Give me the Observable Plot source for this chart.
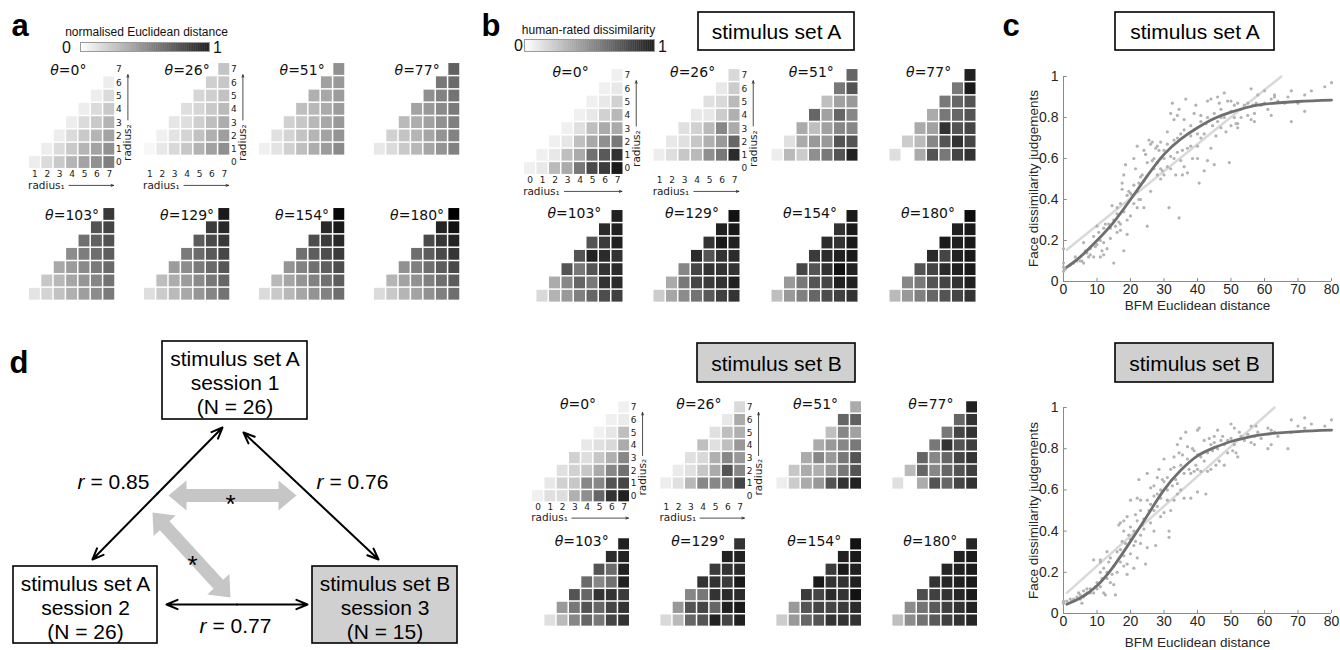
<!DOCTYPE html>
<html><head><meta charset="utf-8">
<script src="https://cdn.jsdelivr.net/npm/d3@7"></script>
<script src="https://cdn.jsdelivr.net/npm/@observablehq/plot@0.6"></script>
<style>
body{margin:0;background:#fff;}
#root{position:relative;width:1340px;height:650px;overflow:hidden;background:#fff;}
#root svg{position:absolute;overflow:visible;background:none;max-width:none;}
</style></head><body><div id="root"></div>
<script>
// ---------------- DATA ----------------
const thetaLabels = ["θ=0°","θ=26°","θ=51°","θ=77°","θ=103°","θ=129°","θ=154°","θ=180°"];
// grid rows listed bottom (lowest radius2) to top; each row ends at radius1 = 7
// panel a: normalised Euclidean distance
const a_t0 = [[.07,.14,.21,.29,.36,.43,.50],[.07,.14,.21,.29,.36,.43],[.07,.14,.21,.29,.36],[.07,.14,.21,.29],[.07,.14,.21],[.07,.14],[.07]];
const a_t26 = [[.03,.09,.15,.22,.30,.37,.44],[.06,.11,.17,.24,.31,.38],[.10,.13,.19,.25,.32],[.13,.16,.21,.27],[.16,.19,.24],[.19,.22],[.23]];
const a_t51 = [[.06,.11,.18,.25,.32,.39,.46],[.12,.17,.23,.29,.36,.42],[.18,.22,.28,.34,.40],[.25,.28,.33,.39],[.31,.34,.39],[.37,.40],[.43]];
const a_t77 = [[.09,.14,.21,.28,.35,.42,.49],[.18,.23,.29,.35,.42,.49],[.27,.32,.37,.43,.50],[.36,.40,.46,.52],[.44,.49,.55],[.53,.58],[.62]];
const a_t103 = [[.11,.17,.24,.31,.38,.45,.52],[.22,.28,.35,.41,.48,.55],[.34,.39,.46,.52,.59],[.45,.51,.57,.63],[.56,.62,.68],[.67,.73],[.78]];
const a_t129 = [[.13,.20,.27,.34,.41,.48,.55],[.26,.32,.39,.46,.53,.60],[.39,.45,.52,.59,.66],[.52,.58,.65,.72],[.64,.71,.78],[.77,.84],[.90]];
const a_t154 = [[.14,.21,.28,.35,.42,.49,.57],[.28,.35,.42,.49,.56,.63],[.42,.49,.56,.63,.70],[.56,.63,.70,.77],[.70,.77,.84],[.84,.90],[.97]];
const a_t180 = [[.14,.21,.29,.36,.43,.50,.57],[.29,.36,.43,.50,.57,.64],[.43,.50,.57,.64,.71],[.57,.64,.71,.79],[.71,.79,.86],[.86,.93],[1.0]];
// panel b, stimulus set A: human-rated dissimilarity
const bA_t0 = [[.06,.09,.27,.33,.53,.71,.77,.90],[.06,.09,.25,.33,.56,.65,.80],[.06,.10,.25,.34,.44,.53],[.06,.12,.25,.33,.33],[.06,.09,.18,.28],[.06,.09,.18],[.06,.09],[.06]];
const bA_t26 = [[.07,.13,.22,.27,.44,.53,.83],[.09,.12,.22,.31,.40,.60],[.12,.18,.27,.47,.33],[.09,.09,.20,.31],[.12,.15,.27],[.09,.20],[.15]];
const bA_t51 = [[.07,.27,.20,.44,.53,.67,.87],[.12,.33,.40,.40,.67,.67],[.33,.25,.37,.47,.47],[.60,.37,.60,.47],[.25,.37,.40],[.53,.67],[.60]];
const bA_t77 = [[.13,0,.33,.67,.53,.73,.80],[.20,.27,.47,.67,.80,.73],[.33,.37,.80,.67,.73],[.33,.53,.60,.67],[.53,.60,.67],[.53,.90],[.87]];
const bA_t103 = [[.15,.30,.40,.50,.60,.70,.75],[.33,.47,.60,.53,.80,.83],[.67,.53,.67,.80,.83],[.67,.87,.83,.80],[.67,.77,.87],[.83,.87],[.87]];
const bA_t129 = [[.20,.35,.45,.55,.65,.75,.80],[.33,.53,.73,.77,.80,.87],[.47,.73,.80,.80,.80],[.83,.67,.80,.83],[.80,.90,.87],[.87,.90],[.93]];
const bA_t154 = [[.25,.40,.50,.60,.70,.75,.80],[.40,.53,.67,.73,.87,.87],[.73,.67,.80,.93,.87],[.77,.83,.87,.90],[.83,.80,.90],[.80,.90],[.90]];
const bA_t180 = [[.27,.40,.50,.60,.67,.73,.80],[.47,.53,.67,.73,.80,.87],[.67,.73,.83,.87,.90],[.83,.73,.87,.90],[.90,.87,.90],[.87,.90],[.95]];
// panel b, stimulus set B
const bB_t0 = [[.06,.12,.13,.31,.44,.60,.80,.87],[.09,.18,.22,.47,.47,.67,.73],[.12,.18,.22,.33,.47,.56],[.18,.13,.22,.31,.47],[.09,.12,.15,.33],[.06,.10,.25],[.06,.08],[.06]];
const bB_t26 = [[.07,.12,.28,.47,.47,.53,.73],[.08,.12,.22,.33,.67,.47],[.12,.15,.31,.47,.40],[.25,.12,.25,.40],[.12,.25,.31],[.09,.33],[.15]];
const bB_t51 = [[.07,.20,.33,.40,.67,.80,.87],[.22,.33,.31,.40,.53,.67],[.33,.47,.40,.53,.67],[.33,.40,.47,.53],[.25,.47,.37],[.60,.62],[.33]];
const bB_t77 = [[.12,0,.33,.67,.60,.73,.80],[.27,.60,.47,.60,.67,.75],[.60,.47,.60,.73,.80],[.53,.80,.67,.75],[.53,.73,.80],[.60,.80],[.87]];
const bB_t103 = [[.12,.27,.47,.60,.53,.73,.80],[.40,.53,.67,.60,.73,.80],[.67,.60,.80,.80,.77],[.58,.47,.56,.87],[.67,.58,.87],[.83,.87],[.87]];
const bB_t129 = [[.15,.27,.60,.67,.87,.73,.87],[.40,.67,.73,.60,.87,.90],[.47,.53,.80,.83,.83],[.80,.80,.77,.90],[.77,.80,.83],[.87,.87],[.80]];
const bB_t154 = [[.20,.40,.60,.67,.80,.80,.80],[.40,.67,.73,.73,.77,.83],[.77,.73,.83,.80,.93],[.90,.80,.80,.87],[.77,.90,.87],[.87,.90],[.93]];
const bB_t180 = [[.25,.45,.55,.65,.75,.80,.85],[.45,.55,.65,.75,.80,.87],[.70,.75,.80,.85,.90],[.80,.85,.87,.90],[.85,.87,.90],[.87,.90],[.85]];

// panel c: BFM Euclidean distance vs face dissimilarity judgement
const scatterA = [[0,.16],[0,.05],[0,.07],[0,.09],[.5,.06],[2,.08],[3,.09],[4,.1],[5,.1],[5.5,.1],[6,.19],[6,.09],[7,.14],[7.5,.12],[8,.13],[8,.16],
[9,.12],[9,.22],[10,.27],[10,.18],[10.5,.24],[11,.12],[11,.2],[11.5,.15],[12,.26],[12,.13],[12.5,.28],
[13,.16],[13.5,.28],[14,.26],[14.5,.37],[15,.09],[15,.3],[15.5,.27],[16,.24],[16,.33],[16.5,.29],[17,.38],[17,.25],[17,.28],[17.5,.45],[17.5,.48],[18,.15],[18,.34],[18,.52],[18.5,.57],[19,.23],[19,.42],
[19.5,.44],[20,.43],[20,.32],[20.5,.42],[21,.6],[21,.38],[21.5,.55],[22,.66],[22,.44],[22,.36],[22.5,.4],[22.5,.48],[23,.51],[23,.47],[23,.4],[23.5,.52],[24,.64],[24,.36],[24.5,.62],[25,.27],[25,.58],
[25.5,.69],[26,.67],[26,.44],[26.5,.68],[27,.6],[27,.55],[27.5,.65],[28,.66],[28,.52],[28,.58],[28.5,.64],[29,.5],[29,.6],[29,.55],[29.5,.54],[30,.6],[30,.52],[30,.64],
[31,.73],[31,.56],[31.5,.36],[32,.82],[32,.55],[32,.61],[32.5,.87],[33,.79],[33,.69],[33,.6],[33.5,.52],[34,.81],[34,.7],[34.5,.84],[34.5,.31],[35,.72],[35,.59],[35.5,.64],[35.5,.52],[36,.56],[36,.74],
[36.5,.89],[37,.65],[37,.53],[38,.76],[38,.71],[38.5,.6],[39,.74],[39,.82],[39.5,.86],[40,.72],[40,.6],[40,.66],[40.5,.48],[41,.81],[41,.78],[42,.54],[42,.72],[42.5,.77],[43,.88],[43,.59],
[44,.65],[44,.89],[44.5,.76],[45,.82],[45,.57],[45.5,.71],[46,.9],[46,.78],[46.5,.87],[47,.84],[47,.75],[48,.92],[48,.8],[48.5,.73],[49,.88],[49.5,.58],[50,.88],[50,.83],
[51,.86],[51,.8],[51.5,.77],[52,.87],[52,.75],[52,.77],[53,.8],[54,.86],[55,.87],[56,.94],[56,.79],[56.5,.86],[57,.82],[57,.78],[57.5,.87],[58,.91],
[60,.93],[60,.87],[61,.84],[62,.81],[62,.89],[63,.91],[63,.9],[67,.9],[68,.93],[68,.78],[70,.87],[72,.83],[72,.91],[74,.93],[78,.95],[80,.97],
[3.5,.12],[6.5,.15],[9.5,.17],[12,.19],[14,.21],[16,.36],[19,.3],[21,.47],[24,.49],[26.5,.59],[29,.68],[31,.67],[34,.63],[36,.79],[38,.66],[41,.7],[43,.8],[47,.8],[50,.76],[53,.84],[55,.81],[59,.86],[64,.88],[66,.87]];
const scatterB = [[0,.05],[0,.06],[1,.06],[2,.07],[3,.07],[4,.08],[5,.09],[5,.07],[5.5,.05],[6,.11],[6,.08],[7,.1],[7,.12],[8,.12],[8,.1],[9,.26],[9,.1],
[10,.12],[10,.15],[11,.25],[11,.2],[11,.26],[11.5,.17],[12,.1],[12,.22],[12.5,.09],[13,.3],[13,.2],[13.5,.25],[14,.27],[14,.15],[15,.14],[15,.23],[15.5,.09],[16,.2],[16,.3],
[16.5,.43],[17,.44],[17,.25],[17.5,.35],[18,.45],[18,.28],[18,.23],[18.5,.34],[19,.47],[19,.24],[19,.19],[19.5,.38],[20,.55],[20,.42],[20,.29],[21,.4],[21,.33],[21,.22],[21.5,.35],[22,.45],[22,.56],[22,.27],
[22.5,.65],[23,.55],[23,.5],[23,.38],[23,.34],[24,.46],[24,.41],[24.5,.24],[25,.68],[25,.55],[25,.32],[26,.53],[26,.61],[26,.44],[27,.62],[27,.5],[27,.4],[27.5,.33],[28,.58],[28,.66],[28,.52],
[28.5,.7],[29,.6],[29,.56],[29,.47],[30,.64],[30,.75],[30,.49],[31,.6],[31,.55],[31.5,.4],[31.5,.37],[32,.7],[32,.5],[32.5,.62],[33,.71],[33,.55],[33.5,.65],[34,.82],[34,.63],[34,.58],
[34.5,.78],[35,.85],[35,.72],[35,.6],[36,.56],[36,.68],[36.5,.88],[37,.81],[37,.75],[38,.56],[38,.68],[38.5,.8],[39,.79],[39,.69],[39.5,.72],[40,.89],[40,.7],[40,.59],[40.5,.9],
[41,.76],[41,.69],[42,.84],[42,.74],[42.5,.58],[43,.78],[43,.69],[44,.82],[44,.7],[44.5,.79],[45,.86],[45,.83],[45.5,.72],[46,.89],[46,.8],[46.5,.74],[47,.84],[48,.82],[48,.72],
[49,.84],[49,.78],[50,.92],[50,.85],[50.5,.79],[51,.9],[51,.82],[51.5,.78],[52,.76],[53,.86],[54,.84],[55,.87],[56,.91],[56,.83],[57,.86],[57,.82],[57.5,.91],[58,.88],
[61,.9],[61,.8],[62,.82],[62,.89],[63,.88],[64,.86],[67,.8],[68,.88],[68,.94],[70,.91],[72,.95],[72,.9],[74,.92],[78,.91],[80,.94],
[2.5,.06],[4.5,.1],[6.5,.09],[9.5,.13],[11,.13],[13,.17],[14.5,.19],[17,.31],[18,.4],[20,.36],[21.5,.48],[23.5,.43],[25.5,.5],[27,.57],[29.5,.65],[31,.66],[33,.76],[35.5,.77],[37.5,.7],[40,.77],[43.5,.85],[47.5,.86],[52.5,.88],[59,.85]];
const sigmoidA = [[1,.07],[5,.12],[10,.2],[15,.29],[20,.4],[25,.515],[30,.62],[35,.695],[40,.75],[45,.795],[50,.826],[55,.85],[60,.865],[70,.878],[80,.885]];
const sigmoidB = [[1,.045],[5,.075],[10,.135],[15,.23],[20,.35],[25,.475],[30,.6],[35,.695],[40,.765],[45,.805],[50,.835],[55,.855],[60,.87],[70,.883],[80,.89]];
const linearA = [[1,.155],[65,1.0]];
const linearB = [[1,.10],[63,1.0]];
const xTicksC = [0,10,20,30,40,50,60,70,80];
const yTicksC = [0,0.2,0.4,0.6,0.8,1];

// panel d
const dBoxText = ["stimulus set A\nsession 1\n(N = 26)","stimulus set A\nsession 2\n(N = 26)","stimulus set B\nsession 3\n(N = 15)"];
const dCorr = [0.85, 0.76, 0.77];
const dStars = ["*","*"];

// ---------------- LAYOUT ----------------
const root = document.getElementById("root");
function place(svg, left, top) { svg.style.left = left + "px"; svg.style.top = top + "px"; italicize(svg); root.appendChild(svg); }
function italicize(svg) {
  const NS = "http://www.w3.org/2000/svg";
  svg.querySelectorAll("text").forEach(t => {
    if (t.children.length) return;
    const s = t.textContent;
    let head = null;
    if (s.startsWith("θ")) head = "θ"; else if (s.startsWith("r = ")) head = "r";
    if (!head) return;
    t.textContent = "";
    const a = document.createElementNS(NS, "tspan"); a.setAttribute("font-style", "italic"); a.textContent = head;
    const b = document.createElementNS(NS, "tspan"); b.textContent = s.slice(head.length);
    t.appendChild(a); t.appendChild(b);
  });
}
const greyScale = {type: "linear", domain: [0, 1], range: ["#ffffff", "#000000"], clamp: true};
const pageScales = {x: {domain: [0, 1340], range: [0, 1340], axis: null}, y: {domain: [0, 650], range: [0, 650], axis: null}};

// overlay layout
const letterPos = [{t: "a", x: 11, y: 35}, {t: "b", x: 481, y: 35}, {t: "c", x: 1002, y: 35}, {t: "d", x: 9, y: 372}];
const titleBoxes = [
  {t: "stimulus set A", x1: 698, x2: 854, y1: 12, y2: 50, fill: "white"},
  {t: "stimulus set B", x1: 697, x2: 855, y1: 343, y2: 382, fill: "#d0d0d0"},
  {t: "stimulus set A", x1: 1115, x2: 1274, y1: 12, y2: 50, fill: "white"},
  {t: "stimulus set B", x1: 1115, x2: 1273, y1: 343, y2: 382, fill: "#d0d0d0"}
];
const dBoxLayout = [{x1: 162, x2: 307, y1: 341, y2: 419, fill: "white"}, {x1: 13, x2: 157, y1: 566, y2: 643, fill: "white"}, {x1: 312, x2: 457, y1: 566, y2: 643, fill: "#d0d0d0"}];
const dCorrLayout = [{x: 113, y: 482}, {x: 352, y: 482}, {x: 235, y: 626}];
const dLinkLayout = [{xa: 222, ya: 427, xb: 92, yb: 559}, {xa: 243, ya: 432, xb: 378, yb: 559}, {xa: 166, ya: 604, xb: 307, yb: 604}];
const dGreyLayout = [{xa: 168, ya: 495, xb: 296, yb: 495, sx: 230, sy: 497}, {xa: 152, ya: 512, xb: 230, yb: 597, sx: 192, sy: 558}];

function blockArrow(L, sh, hh, hl) {
  const dx = L.xb - L.xa, dy = L.yb - L.ya, len = Math.hypot(dx, dy);
  const ux = dx / len, uy = dy / len, nx = -uy, ny = ux;
  const P = (x, y) => ({x, y});
  const A = [L.xa, L.ya], B = [L.xb, L.yb];
  return [
    P(A[0], A[1]),
    P(A[0] + ux*hl + nx*hh, A[1] + uy*hl + ny*hh),
    P(A[0] + ux*hl + nx*sh, A[1] + uy*hl + ny*sh),
    P(B[0] - ux*hl + nx*sh, B[1] - uy*hl + ny*sh),
    P(B[0] - ux*hl + nx*hh, B[1] - uy*hl + ny*hh),
    P(B[0], B[1]),
    P(B[0] - ux*hl - nx*hh, B[1] - uy*hl - ny*hh),
    P(B[0] - ux*hl - nx*sh, B[1] - uy*hl - ny*sh),
    P(A[0] + ux*hl - nx*sh, A[1] + uy*hl - ny*sh),
    P(A[0] + ux*hl - nx*hh, A[1] + uy*hl - ny*hh),
    P(A[0], A[1])
  ];
}
const linkSegs = dLinkLayout.flatMap(L => {
  const mx = (L.xa + L.xb) / 2, my = (L.ya + L.yb) / 2;
  return [{x1: mx, y1: my, x2: L.xa, y2: L.ya}, {x1: mx, y1: my, x2: L.xb, y2: L.yb}];
});

const overlay = Plot.plot({
  width: 1340, height: 650, margin: 0, ...pageScales,
  style: {fontFamily: "Liberation Sans, Arial, sans-serif", background: "none", overflow: "visible"},
  marks: [
    Plot.text(letterPos, {x: "x", y: "y", text: "t", fontSize: 31, fontWeight: "bold", textAnchor: "start", lineAnchor: "bottom", fill: "black"}),
    Plot.rect(titleBoxes, {x1: "x1", x2: "x2", y1: "y1", y2: "y2", fill: "fill", stroke: "black", strokeWidth: 1.6}),
    Plot.text(titleBoxes, {x: d => (d.x1 + d.x2) / 2, y: d => (d.y1 + d.y2) / 2 + 1, text: "t", fontSize: 21, fill: "black"}),
    // colorbar titles
    Plot.text(["normalised Euclidean distance", "human-rated dissimilarity"], {x: (d, i) => [146, 588][i], y: (d, i) => [32, 30][i], text: d => d, fontSize: 12, fill: "#111"}),
    Plot.text(["0", "1", "0", "1"], {x: (d, i) => [66, 217, 518, 662][i], y: (d, i) => [47, 47, 45, 46][i], text: d => d, fontSize: 16, fill: "#111"}),
    // panel c axis titles
    Plot.text(["Face dissimilarity judgements", "Face dissimilarity judgements"], {x: 1033, y: (d, i) => [178, 510][i], text: d => d, rotate: -90, fontSize: 13.5, fill: "#262626"}),
    Plot.text(["BFM Euclidean distance", "BFM Euclidean distance"], {x: 1197, y: (d, i) => [305, 642][i], text: d => d, fontSize: 13.5, fill: "#262626"}),
    // panel d
    ...dGreyLayout.map(L => Plot.line(blockArrow(L, 6.5, 15, 18), {x: "x", y: "y", fill: "#c6c6c6", stroke: "none"})),
    Plot.text(dStars, {x: (d, i) => dGreyLayout[i].sx, y: (d, i) => dGreyLayout[i].sy + 7, text: d => d, fontSize: 26, fill: "black"}),
    Plot.rect(dBoxLayout, {x1: "x1", x2: "x2", y1: "y1", y2: "y2", fill: "fill", stroke: "black", strokeWidth: 1.6}),
    Plot.text(dBoxText, {x: (d, i) => (dBoxLayout[i].x1 + dBoxLayout[i].x2) / 2, y: (d, i) => (dBoxLayout[i].y1 + dBoxLayout[i].y2) / 2 + 2, text: d => d, fontSize: 21, lineHeight: 1.14, fill: "black"}),
    Plot.arrow(linkSegs, {x1: "x1", y1: "y1", x2: "x2", y2: "y2", stroke: "black", strokeWidth: 2, headLength: 9, headAngle: 45}),
    Plot.text(dCorr, {x: (d, i) => dCorrLayout[i].x, y: (d, i) => dCorrLayout[i].y, text: d => "r = " + d.toFixed(2), fontSize: 21, fill: "black"})
  ]
});
place(overlay, 0, 0);

// colorbars
const ramp = d3.range(0, 1, 0.005);
function colorbar(left, top, w, h) {
  const svg = Plot.plot({width: w, height: h, margin: 0, x: {domain: [0, 1], axis: null}, y: {domain: [0, 1], axis: null}, color: greyScale,
    style: {background: "none"},
    marks: [Plot.rect(ramp, {x1: d => d, x2: d => d + 0.006, y1: 0, y2: 1, fill: d => d}), Plot.frame({stroke: "#9a9a9a"})]});
  place(svg, left, top);
}
colorbar(80, 42, 129, 9);
colorbar(524, 39, 130, 12);

// heat grids
const gridLayouts = {
  a: {px: 12.4, py: 13.3, cols: [109, 224, 339, 454], rowsY: [162, 307], lx: [3.7, 4, 4, 4, 4, 4, 4, 4], ly: 6.95},
  bA: {px: 12.5, py: 13.3, cols: [617, 734, 852, 970], rowsY: [168, 308.6], lx: [3.25, 3.65, 3.7, 3.65, 3.55, 3.6, 3.6, 3.6], ly: 7.2},
  bB: {px: 12.3, py: 12.7, cols: [624, 740, 856, 972], rowsY: [496, 632.4], lx: [3.25, 3.65, 3.7, 3.65, 3.55, 3.6, 3.6, 3.6], ly: 7.25}
};
const one7 = [1, 2, 3, 4, 5, 6, 7], zero7 = [0, 1, 2, 3, 4, 5, 6, 7];
const gridSets = [
  {L: gridLayouts.a, grids: [a_t0, a_t26, a_t51, a_t77, a_t103, a_t129, a_t154, a_t180], axes: [{x: one7, y: zero7}, {x: one7, y: zero7}]},
  {L: gridLayouts.bA, grids: [bA_t0, bA_t26, bA_t51, bA_t77, bA_t103, bA_t129, bA_t154, bA_t180], axes: [{x: zero7, y: zero7}, {x: one7, y: zero7}]},
  {L: gridLayouts.bB, grids: [bB_t0, bB_t26, bB_t51, bB_t77, bB_t103, bB_t129, bB_t154, bB_t180], axes: [{x: zero7, y: zero7}, {x: one7, y: zero7}]}
];
function drawGrid(values, r2min, label, L, k, axes) {
  const cells = [];
  values.forEach((row, j) => row.forEach((v, i) => cells.push({r1: 8 - row.length + i, r2: r2min + j, v})));
  const X0 = -5, X1 = 10, Y0 = -3, Y1 = 8.8;
  const marks = [
    Plot.rect(cells, {x1: d => d.r1 - 0.5, x2: d => d.r1 + 0.5, y1: d => d.r2 - 0.5, y2: d => d.r2 + 0.5, fill: "v", inset: 0.75}),
    Plot.text([label], {x: L.lx[k], y: L.ly, text: d => d, fontSize: 14, fill: "#111"})
  ];
  if (axes) {
    const xt = axes.x, yt = axes.y;
    marks.push(
      Plot.text(xt, {x: d => d, y: -0.85, text: d => String(d), fontSize: 9, fill: "#222"}),
      Plot.text(yt, {x: 7.78, y: d => d, text: d => String(d), fontSize: 9, fill: "#222"}),
      Plot.text(["radius₁"], {x: xt[0] - 0.55, y: -1.72, text: d => d, textAnchor: "start", fontSize: 10.5, fill: "#222"}),
      Plot.arrow([0], {x1: xt[0] + 2.75, x2: 7.35, y1: -1.72, y2: -1.72, stroke: "#222", strokeWidth: 0.8, headLength: 5, headAngle: 40}),
      Plot.text(["radius₂"], {x: 8.5, y: 1.5, text: d => d, rotate: -90, fontSize: 10.5, fill: "#222"}),
      Plot.arrow([0], {x1: 8.5, x2: 8.5, y1: 3.2, y2: 6.6, stroke: "#222", strokeWidth: 0.8, headLength: 5, headAngle: 40})
    );
  }
  const svg = Plot.plot({
    width: (X1 - X0) * L.px, height: (Y1 - Y0) * L.py, margin: 0,
    x: {domain: [X0, X1], axis: null}, y: {domain: [Y0, Y1], axis: null}, color: greyScale,
    style: {fontFamily: "DejaVu Sans", background: "none", overflow: "visible"}, marks
  });
  place(svg, L.cols[k % 4] - (7 - X0) * L.px, L.rowsY[Math.floor(k / 4)] - Y1 * L.py);
}
gridSets.forEach(S => S.grids.forEach((g, k) => drawGrid(g, g.length === 7 && k > 0 ? 1 : 0, thetaLabels[k], S.L, k, S.axes[k])));

// scatter plots
function scatter(pts, lin, sig, left, top, innerH) {
  const toXY = a => a.map(([x, y]) => ({x, y}));
  const svg = Plot.plot({
    width: 350, height: 16 + innerH + 35, marginLeft: 73, marginRight: 9, marginTop: 16, marginBottom: 35,
    x: {domain: [0, 80]}, y: {domain: [0, 1]},
    style: {fontFamily: "Liberation Sans, Arial, sans-serif", fontSize: "14px", background: "none", overflow: "visible", color: "#262626"},
    marks: [
      Plot.axisX({ticks: xTicksC, tickSize: 0, tickPadding: 3, label: null, fontSize: 14}),
      Plot.axisY({ticks: yTicksC, tickSize: 0, tickPadding: 5, tickFormat: d => String(d), label: null, fontSize: 14}),
      Plot.ruleX(xTicksC, {x: d => d, y1: 0, y2: 0.015, stroke: "#8a8a8a"}),
      Plot.ruleY(yTicksC, {y: d => d, x1: 0, x2: 1.1, stroke: "#8a8a8a"}),
      Plot.ruleY([0], {stroke: "#8a8a8a"}),
      Plot.ruleX([0], {stroke: "#8a8a8a"}),
      Plot.line(toXY(lin), {x: "x", y: "y", stroke: "#d9d9d9", strokeWidth: 2.5}),
      Plot.dot(toXY(pts), {x: "x", y: "y", r: 1.6, fill: "#b3b3b3", stroke: null}),
      Plot.line(toXY(sig), {x: "x", y: "y", stroke: "#6f6f6f", strokeWidth: 2.8, curve: "natural"})
    ]
  });
  place(svg, left, top);
}
scatter(scatterA, linearA, sigmoidA, 990, 60, 205);
scatter(scatterB, linearB, sigmoidB, 990, 391, 206);
</script></body></html>
